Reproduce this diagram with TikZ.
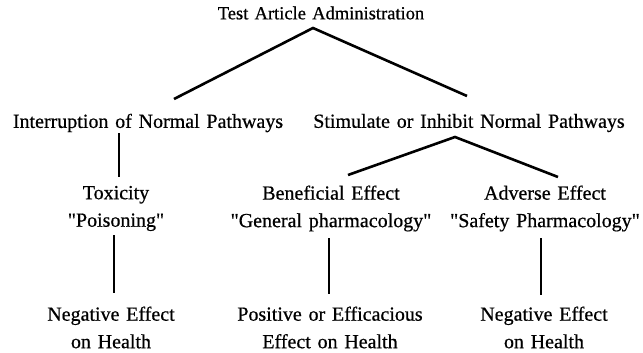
\documentclass[tikz,border=0pt]{standalone}
\usepackage{fontspec}
\setmainfont{Liberation Serif}[FakeBold=0.6,WordSpace=1.35]
\newcommand{\qq}{\textquotedbl}
\begin{document}
\begin{tikzpicture}[x=1pt,y=-1pt,
  lbl/.style={inner sep=0pt,font=\fontsize{20}{27.5}\selectfont,align=center,anchor=center},
  conn/.style={line width=2.6pt,line cap=butt}]
\useasboundingbox (0,0) rectangle (643,353);
% texts
\node[lbl,font=\fontsize{18.5}{27}\selectfont] (title) at (321,13) {Test Article Administration};
\node[lbl] (intr) at (148,123) {Interruption of Normal Pathways};
\node[lbl] (stim) at (469,123) {Stimulate or Inhibit Normal Pathways};
\node[lbl] (tox) at (116,208.5) {Toxicity\\\qq Poisoning\qq};
\node[lbl] (ben) at (331,208.5) {Beneficial Effect\\\qq General pharmacology\qq};
\node[lbl] (adv) at (545,208.5) {Adverse Effect\\\qq Safety Pharmacology\qq};
\node[lbl] (neg1) at (111,327.5) {Negative Effect\\on Health};
\node[lbl] (pos) at (330,327.5) {Positive or Efficacious\\Effect on Health};
\node[lbl] (neg2) at (544,327.5) {Negative Effect\\on Health};
% connector points
\coordinate (a1) at (313,28);
\coordinate (a1l) at (174,99);
\coordinate (a1r) at (467,96);
\coordinate (a2) at (455,137);
\coordinate (a2l) at (348,175);
\coordinate (a2r) at (558,177);
\draw[conn] (a1l) -- (a1) -- (a1r);
\draw[conn] (a2l) -- (a2) -- (a2r);
\draw[conn] (119,133) -- (119,177);
\draw[conn] (114,235) -- (114,293);
\draw[conn] (329,238) -- (329,294);
\draw[conn] (541,238) -- (541,295);
\end{tikzpicture}
\end{document}
